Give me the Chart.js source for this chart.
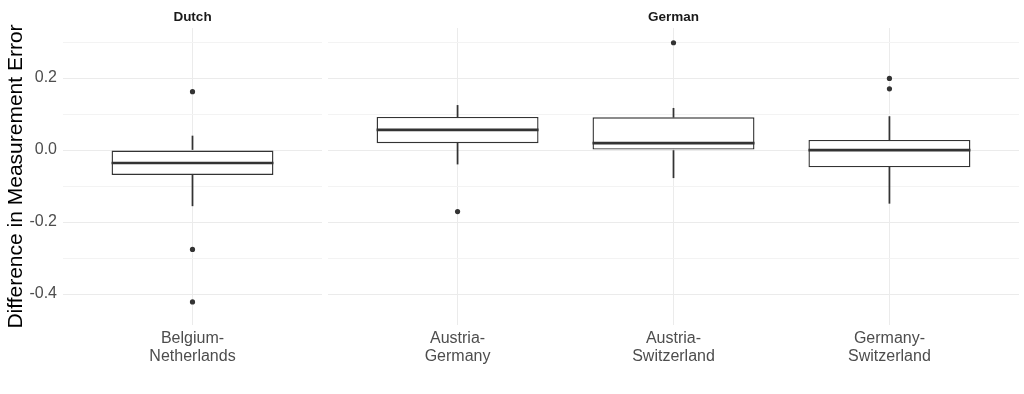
<!DOCTYPE html>
<html><head><meta charset="utf-8">
<script src="https://cdn.jsdelivr.net/npm/chart.js@4.4.1/dist/chart.umd.min.js"></script>
<style>
html,body{margin:0;padding:0;background:#fff;width:1024px;height:394px;overflow:hidden}
.p{position:absolute;top:0;height:394px}
#w1{left:0;width:325px}
#w2{left:325px;width:699px}
</style></head><body>
<div class="p" id="w1"><canvas id="c1"></canvas></div>
<div class="p" id="w2"><canvas id="c2"></canvas></div>
<script>
// ---- data ----
const panelNames = ['Dutch', 'German'];
const categories = ['Belgium-Netherlands', 'Austria-Germany', 'Austria-Switzerland', 'Germany-Switzerland'];
const facets = ['Dutch', 'German', 'German', 'German'];
const whiskerLow = [-0.155, -0.039, -0.077, -0.148];
const q1 = [-0.069, 0.019, 0.000, -0.048];
const median = [-0.036, 0.056, 0.019, 0.000];
const q3 = [0.000, 0.092, 0.091, 0.028];
const whiskerHigh = [0.039, 0.124, 0.116, 0.093];
const outliers = [[0.162, -0.276, -0.422], [-0.171], [0.298], [0.199, 0.170]];
const yTitle = 'Difference in Measurement Error';
const yMin = -0.486, yMax = 0.339;
const yTickValues = [-0.4, -0.2, 0, 0.2];
const yTickLabels = ['-0.4', '-0.2', '0.0', '0.2'];
const yMinorValues = [-0.3, -0.1, 0.1, 0.3];

// ---- styles ----
const FONT = "'Liberation Sans', Arial, Helvetica, sans-serif";
const INK = '#333333';

const medianPlugin = {
  id: 'median',
  afterDatasetsDraw(chart) {
    const meta = chart.getDatasetMeta(1);
    const ys = chart.scales.y;
    const ctx = chart.ctx;
    ctx.save();
    ctx.strokeStyle = INK;
    ctx.lineWidth = 2.7;
    meta.data.forEach((el, k) => {
      const d = chart.data.datasets[1].data[k];
      const p = el.getProps(['x', 'width'], true);
      const py = ys.getPixelForValue(d.med);
      ctx.beginPath();
      ctx.moveTo(p.x - p.width / 2, py);
      ctx.lineTo(p.x + p.width / 2, py);
      ctx.stroke();
    });
    ctx.restore();
  }
};

const stripPlugin = {
  id: 'strip',
  afterDraw(chart, args, opts) {
    const ctx = chart.ctx;
    const a = chart.chartArea;
    ctx.save();
    ctx.fillStyle = '#1a1a1a';
    ctx.font = '700 13.5px ' + FONT;
    ctx.textAlign = 'center';
    ctx.textBaseline = 'middle';
    ctx.fillText(opts.text, (a.left + a.right) / 2, 17.5);
    ctx.restore();
  }
};

function makeChart(canvasId, panel, cfg) {
  const idx = categories.map((c, i) => i).filter(i => facets[i] === panel);
  const items = idx.map((i, k) => ({ i, x: k + 1 }));
  const n = items.length;
  const outlierData = [];
  items.forEach(p => outliers[p.i].forEach(v => outlierData.push({ x: p.x, y: v })));
  const labelFor = v => {
    const it = items.find(p => p.x === v);
    return it ? categories[it.i].replace('-', '-\n').split('\n') : '';
  };
  new Chart(document.getElementById(canvasId), {
    type: 'bar',
    data: {
      datasets: [
        { type: 'scatter', order: 0, data: outlierData, pointRadius: 2.6, pointHoverRadius: 2.6,
          backgroundColor: INK, borderWidth: 0, showLine: false },
        { type: 'bar', order: 1, grouped: false,
          data: items.map(p => ({ x: p.x, y: [q1[p.i], q3[p.i]], med: median[p.i] })),
          backgroundColor: '#ffffff', borderColor: INK, borderWidth: 1.4, borderSkipped: false,
          categoryPercentage: 1, barPercentage: cfg.barPct },
        { type: 'bar', order: 2, grouped: false,
          data: items.map(p => ({ x: p.x, y: [whiskerLow[p.i], q1[p.i]] })),
          backgroundColor: INK, borderWidth: 0, barThickness: 1.1 },
        { type: 'bar', order: 3, grouped: false,
          data: items.map(p => ({ x: p.x, y: [q3[p.i], whiskerHigh[p.i]] })),
          backgroundColor: INK, borderWidth: 0, barThickness: 1.1 }
      ]
    },
    options: {
      responsive: true, maintainAspectRatio: false, animation: false, devicePixelRatio: 1,
      events: [],
      layout: { padding: { left: cfg.padLeft, right: cfg.padRight, top: 28, bottom: 0 } },
      plugins: { legend: { display: false }, tooltip: { enabled: false }, strip: { text: panel } },
      scales: {
        x: {
          type: 'linear', min: 0.4, max: n + 0.6, offset: false,
          afterBuildTicks: s => { s.ticks = items.map(p => ({ value: p.x })); },
          afterFit: s => { s.height = 69; },
          ticks: { callback: v => labelFor(v), color: '#4d4d4d', font: { size: 16, family: FONT, lineHeight: 1.15 },
                   padding: 4, autoSkip: false, maxRotation: 0, minRotation: 0 },
          grid: { color: '#ebebeb', lineWidth: 1, drawTicks: false, offset: false },
          border: { display: false }
        },
        y: {
          type: 'linear', min: yMin, max: yMax,
          afterBuildTicks: s => {
            s.ticks = yTickValues.concat(yMinorValues).sort((a, b) => a - b).map(v => ({ value: v }));
          },
          afterFit: s => { s.width = cfg.yWidth; },
          ticks: {
            display: cfg.showY, autoSkip: false, color: '#4d4d4d', font: { size: 16, family: FONT }, padding: 6,
            callback: v => { const k = yTickValues.findIndex(t => Math.abs(t - v) < 1e-9); return k >= 0 ? yTickLabels[k] : ''; }
          },
          grid: {
            drawTicks: false, lineWidth: 1,
            color: c => (yMinorValues.some(t => Math.abs(t - c.tick.value) < 1e-9) ? '#f3f3f3' : '#ebebeb')
          },
          border: { display: false },
          title: { display: cfg.showY, text: yTitle, color: '#000000', font: { size: 21, family: FONT }, padding: { top: 4, bottom: 0 } }
        }
      }
    },
    plugins: [medianPlugin, stripPlugin]
  });
}

makeChart('c1', panelNames[0], { padLeft: 0, padRight: 3, yWidth: 63, showY: true, barPct: 0.625 });
makeChart('c2', panelNames[1], { padLeft: 3, padRight: 5, yWidth: 0, showY: false, barPct: 0.75 });
</script>
</body></html>
